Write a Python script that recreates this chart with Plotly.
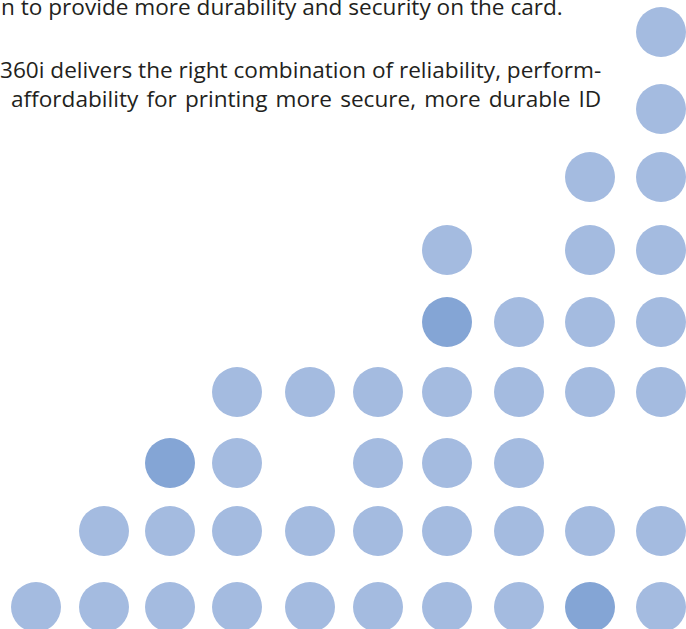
import plotly.graph_objects as go

# Grid of dot positions (pixel-like data coordinates)
col_x = [36, 104, 170, 237, 310, 378, 447, 519, 590, 661]
row_y = [32, 109, 177, 250, 322, 392, 463, 531, 607]

# Which columns are filled in each row; dark dots listed separately
row_cols = [
    [9],
    [9],
    [8, 9],
    [6, 8, 9],
    [7, 8, 9],
    [3, 4, 5, 6, 7, 8, 9],
    [3, 5, 6, 7],
    [1, 2, 3, 4, 5, 6, 7, 8, 9],
    [0, 1, 2, 3, 4, 5, 6, 7, 9],
]
dark_dots = [(4, 6), (6, 2), (8, 8)]  # (row, col)

text_lines = [
    "n to provide more durability and security on the card.",
    "360i delivers the right combination of reliability, perform-",
    "affordability for printing more secure, more durable ID",
]
# extra word spacing to emulate justified lines
line_gap = [" ", " ", " \u200a"]
text_y = [6, 69.5, 98.5]
text_x = [0, 0, 9]
text_shift = [-1, -2, 0]

light_x, light_y = [], []
for r, cols in enumerate(row_cols):
    for c in cols:
        light_x.append(col_x[c])
        light_y.append(row_y[r])
dark_x = [col_x[c] for r, c in dark_dots]
dark_y = [row_y[r] for r, c in dark_dots]

fig = go.Figure()
fig.add_trace(go.Scatter(x=light_x, y=light_y, mode="markers",
                         marker=dict(size=50, color="#A4BBE0", line=dict(width=0)),
                         hoverinfo="skip"))
fig.add_trace(go.Scatter(x=dark_x, y=dark_y, mode="markers",
                         marker=dict(size=50, color="#84A5D5", line=dict(width=0)),
                         hoverinfo="skip"))

for t, g, x, y, s in zip(text_lines, line_gap, text_x, text_y, text_shift):
    fig.add_annotation(x=x, y=y, xref="x", yref="y", text=g.join(t.split(" ")),
                       showarrow=False, xanchor="left", yanchor="middle", xshift=s,
                       font=dict(family="Open Sans", size=22.6, color="#231F20"))

fig.update_layout(
    width=686, height=629,
    margin=dict(l=0, r=0, t=0, b=0),
    paper_bgcolor="white", plot_bgcolor="white",
    showlegend=False,
    xaxis=dict(range=[0, 686], visible=False, fixedrange=True),
    yaxis=dict(range=[629, 0], visible=False, fixedrange=True),
)

fig.write_html("out.html", config={"displayModeBar": False},
               post_script="document.body.style.margin='0';document.body.style.overflow='hidden';")
